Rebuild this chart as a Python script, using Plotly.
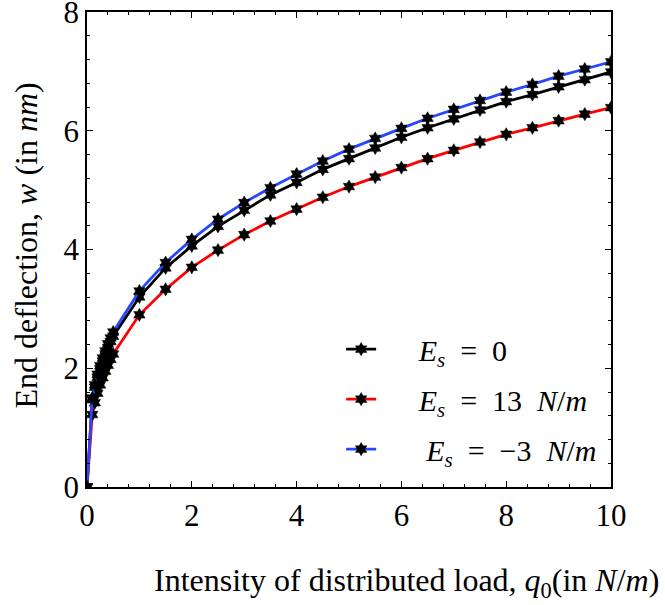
import plotly.graph_objects as go

q0 = [0, 0.1, 0.15, 0.2, 0.25, 0.3, 0.35, 0.4, 0.45, 0.5,
      1, 1.5, 2, 2.5, 3, 3.5, 4, 4.5, 5, 5.5, 6, 6.5, 7, 7.5, 8, 8.5, 9, 9.5, 10]

w_es0 = [0, 1.47, 1.68, 1.85, 1.99, 2.12, 2.24, 2.35, 2.45, 2.54,
         3.20, 3.69, 4.06, 4.39, 4.66, 4.92, 5.13, 5.35, 5.53, 5.71, 5.89, 6.05,
         6.20, 6.35, 6.49, 6.61, 6.74, 6.86, 6.99]

w_es13 = [0, 1.22, 1.42, 1.58, 1.72, 1.84, 1.95, 2.05, 2.15, 2.24,
          2.90, 3.33, 3.70, 3.99, 4.25, 4.48, 4.68, 4.88, 5.06, 5.22, 5.38, 5.53,
          5.67, 5.81, 5.94, 6.05, 6.17, 6.28, 6.39]

w_esm3 = [0, 1.50, 1.72, 1.90, 2.04, 2.17, 2.29, 2.41, 2.51, 2.61,
          3.30, 3.78, 4.17, 4.51, 4.79, 5.04, 5.27, 5.49, 5.69, 5.87, 6.04, 6.21,
          6.36, 6.51, 6.65, 6.78, 6.92, 7.04, 7.16]

SP = "\u00a0" * 5
names = [SP + "<i>E<sub>s</sub></i>\u2002=\u20020",
         SP + "<i>E<sub>s</sub></i>\u2002=\u200213\u2002<i>N</i>/<i>m</i>",
         SP + "\u00a0<i>E<sub>s</sub></i>\u2002=\u2002\u22123\u2002<i>N</i>/<i>m</i>"]
colors = ["#000000", "#ff0000", "#2846ff"]
series = [w_es0, w_es13, w_esm3]

FONT = "Liberation Serif, Times New Roman, serif"

fig = go.Figure()
for i, (nm, col, ys) in enumerate(zip(names, colors, series)):
    fig.add_trace(go.Scatter(
        x=q0, y=ys, name=nm, mode="lines+markers", legendgroup=f"g{i}",
        line=dict(color=col, width=2.8),
        marker=dict(symbol="hexagram", size=10, color="black",
                    line=dict(color="black", width=0.5)),
    ))

axis_common = dict(
    showgrid=False, zeroline=False, showline=True, linecolor="black", linewidth=1.5,
    mirror="ticks", ticks="inside", ticklen=6, tickcolor="black", tickwidth=1,
    tickfont=dict(family=FONT, size=31, color="black"),
    ticklabeloverflow="allow", automargin=False,
    minor=dict(ticks="inside", ticklen=3, tickcolor="black", dtick=0.4),
)

fig.update_xaxes(range=[0, 10], dtick=2, tick0=0, **axis_common)
fig.update_yaxes(range=[0, 8], dtick=2, tick0=0, **axis_common)

fig.add_annotation(
    text="Intensity of distributed load, <i>q</i><sub>0</sub>(in <i>N</i>/<i>m</i>)",
    xref="paper", yref="paper", x=0.609, y=-0.202, xanchor="center", yanchor="middle",
    showarrow=False, font=dict(family=FONT, size=32, color="black"),
)
fig.add_annotation(
    text="End deflection, <i>w</i> (in <i>nm</i>)", textangle=-90,
    xref="paper", yref="paper", x=-0.116, y=0.509, xanchor="center", yanchor="middle",
    showarrow=False, font=dict(family=FONT, size=32, color="black"),
)

fig.update_layout(
    width=665, height=605,
    margin=dict(l=87, r=54, t=12, b=118),
    plot_bgcolor="white", paper_bgcolor="white",
    font=dict(family=FONT, color="black"),
    showlegend=True,
    legend=dict(x=0.485, y=0.345, xanchor="left", yanchor="top",
                bgcolor="rgba(0,0,0,0)", tracegroupgap=8,
                font=dict(family=FONT, size=30, color="black")),
)

fig.write_html("out.html", config={"displayModeBar": False},
               post_script="document.body.style.margin='0';")
